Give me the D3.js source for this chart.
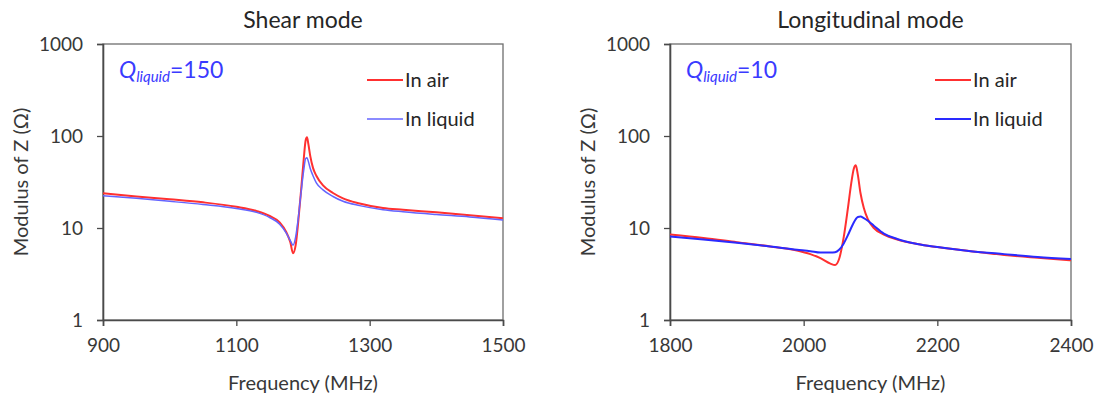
<!DOCTYPE html>
<html>
<head>
<meta charset="utf-8">
<script src="https://cdn.jsdelivr.net/npm/d3@7"></script>
<style>
  body { margin: 0; background: #fff; }
  svg { display: block; font-family: Lato, "Open Sans", sans-serif; }
</style>
</head>
<body>
<div id="app"></div>
<script>
// Shear mode data (MHz, ohm)
const shearFreq = [900, 950, 1000, 1050, 1100, 1130, 1150, 1165, 1175, 1181, 1185, 1189, 1193, 1197, 1201, 1204, 1206, 1208, 1211, 1215, 1220, 1230, 1245, 1260, 1285, 1320, 1350, 1400, 1450, 1500];
const shearAir = [23.8, 22, 20.5, 19, 17, 15.3, 13.5, 11.5, 9, 7, 5.3, 6.5, 12, 25, 55, 90, 97, 82, 60, 45, 37, 29, 24, 21, 18.5, 16.5, 15.8, 14.8, 13.8, 12.8];
const shearLiquid = [22.4, 21, 19.5, 18, 16.3, 14.8, 13, 11, 8.8, 7.3, 6.5, 8, 13, 24, 42, 57, 58, 53, 44, 37, 31, 26, 22, 19.5, 17.5, 15.8, 15, 14, 13.2, 12.2];

// Longitudinal mode data
const longFreq = [1800, 1850, 1900, 1950, 1990, 2010, 2025, 2040, 2047, 2053, 2060, 2066, 2071, 2075, 2078, 2081, 2085, 2090, 2096, 2105, 2120, 2140, 2170, 2200, 2250, 2300, 2350, 2400];
const longAir = [8.5, 7.8, 7.0, 6.3, 5.7, 5.2, 4.7, 4.1, 3.95, 4.6, 8, 16, 30, 44, 48, 38, 24, 16.5, 12.5, 10, 8.5, 7.5, 6.7, 6.2, 5.6, 5.1, 4.75, 4.45];
const longLiquid = [8.1, 7.5, 6.9, 6.3, 5.8, 5.6, 5.4, 5.4, 5.45, 5.8, 6.8, 8.3, 10, 11.5, 12.5, 13.2, 13.3, 12.8, 12, 10.6, 8.7, 7.6, 6.7, 6.2, 5.6, 5.2, 4.85, 4.6];

const yTicks = [1, 10, 100, 1000];
const shearTicks = [900, 1100, 1300, 1500];
const longTicks = [1800, 2000, 2200, 2400];

const width = 1099, height = 396;
const svg = d3.select('#app').append('svg')
  .attr('width', width)
  .attr('height', height);

function panel(opts) {
  const { left, right, freq, air, liquid, ticks, title, q, liquidColor, liquidWidth } = opts;
  const top = 44, bottom = 320;

  const x = d3.scaleLinear().domain([ticks[0], ticks[ticks.length - 1]]).range([left, right]);
  const y = d3.scaleLog().domain([1, 1000]).range([bottom, top]);

  const g = svg.append('g');

  // frame (top + right)
  g.append('rect')
    .attr('x', left).attr('y', top)
    .attr('width', right - left).attr('height', bottom - top)
    .attr('fill', 'none').attr('stroke', '#6e6e6e').attr('stroke-width', 1.3);

  const xAxis = g.append('g')
    .attr('transform', `translate(0,${bottom})`)
    .call(d3.axisBottom(x).tickValues(ticks).tickSize(6).tickPadding(10).tickFormat(d3.format('d')));
  const yAxis = g.append('g')
    .attr('transform', `translate(${left},0)`)
    .call(d3.axisLeft(y).tickValues(yTicks).tickSize(6).tickPadding(14).tickFormat(d3.format('d')));

  [xAxis, yAxis].forEach(a => {
    a.select('.domain').attr('stroke', '#4a4a4a').attr('stroke-width', 1.6);
    a.selectAll('.tick line').attr('stroke', '#4a4a4a').attr('stroke-width', 1.3);
    a.selectAll('.tick text').attr('fill', '#383838').style('font-size', '19px')
      .style('font-family', 'Lato, sans-serif');
  });
  yAxis.selectAll('.tick text').attr('dy', '0.35em');
  xAxis.selectAll('.tick text').attr('dy', '0.85em');

  const line = d3.line()
    .x(d => x(d[0]))
    .y(d => y(d[1]))
    .curve(d3.curveMonotoneX);

  g.append('path')
    .datum(d3.zip(freq, air))
    .attr('d', line)
    .attr('fill', 'none').attr('stroke', '#ff3030').attr('stroke-width', 2);
  g.append('path')
    .datum(d3.zip(freq, liquid))
    .attr('d', line)
    .attr('fill', 'none').attr('stroke', liquidColor).attr('stroke-width', liquidWidth);

  // title
  g.append('text')
    .attr('x', (left + right) / 2).attr('y', 28)
    .attr('text-anchor', 'middle')
    .attr('fill', '#262626').style('font-size', '23px')
    .text(title);

  // x label
  g.append('text')
    .attr('x', (left + right) / 2).attr('y', 390)
    .attr('text-anchor', 'middle')
    .attr('fill', '#383838').style('font-size', '20px')
    .text('Frequency (MHz)');

  // y label
  g.append('text')
    .attr('transform', `translate(${left - 75},${(top + bottom) / 2}) rotate(-90)`)
    .attr('text-anchor', 'middle')
    .attr('fill', '#383838').style('font-size', '20px')
    .text('Modulus of Z (Ω)');

  // Q annotation
  const qt = g.append('text')
    .attr('x', left + 16).attr('y', 78)
    .attr('fill', '#3a3aff').style('font-size', '23px');
  qt.append('tspan').style('font-style', 'italic').text('Q');
  qt.append('tspan').style('font-style', 'italic').style('font-size', '15px')
    .attr('dy', 4).text('liquid');
  qt.append('tspan').attr('dy', -4).text('=' + q);

  // legend
  const legend = [
    { label: 'In air', color: '#ff3030', w: 2, yy: 80 },
    { label: 'In liquid', color: liquidColor, w: liquidWidth, yy: 119 }
  ];
  legend.forEach(d => {
    g.append('line')
      .attr('x1', right - 136).attr('x2', right - 100)
      .attr('y1', d.yy).attr('y2', d.yy)
      .attr('stroke', d.color).attr('stroke-width', d.w);
    g.append('text')
      .attr('x', right - 98).attr('y', d.yy).attr('dy', '0.35em')
      .attr('fill', '#262626').style('font-size', '20px')
      .text(d.label);
  });
}

panel({ left: 103, right: 503, freq: shearFreq, air: shearAir, liquid: shearLiquid,
  ticks: shearTicks, title: 'Shear mode', q: 150, liquidColor: '#6464ff', liquidWidth: 1.5 });
panel({ left: 670, right: 1071, freq: longFreq, air: longAir, liquid: longLiquid,
  ticks: longTicks, title: 'Longitudinal mode', q: 10, liquidColor: '#2a2aff', liquidWidth: 2 });
</script>
</body>
</html>
